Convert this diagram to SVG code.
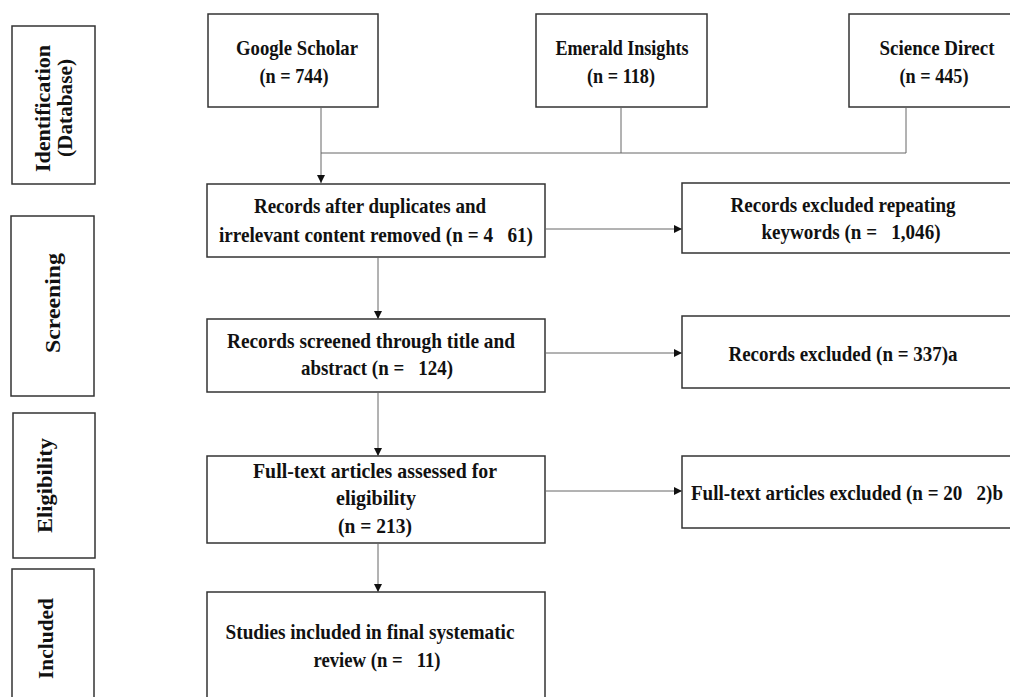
<svg xmlns="http://www.w3.org/2000/svg" width="1010" height="697" viewBox="0 0 1010 697">
<defs>
<marker id="arr" viewBox="0 0 10 10" refX="10" refY="5" markerWidth="8" markerHeight="8" markerUnits="userSpaceOnUse" orient="auto">
<path d="M0,0 L10,5 L0,10 Z" fill="#111"/>
</marker>
<style>
.box{fill:#fff;stroke:#333;stroke-width:1.5}
.t{font-family:"Liberation Serif","Times New Roman",serif;font-weight:bold;font-size:21px;fill:#111;text-anchor:middle}
.c{fill:none;stroke:#666;stroke-width:1}
</style>
</defs>
<rect width="1010" height="697" fill="#fff"/>

<g id="stage-identification">
<rect class="box" x="12" y="26" width="83" height="158"/>
<text class="t" transform="translate(50,108.5) rotate(-90)" textLength="127" lengthAdjust="spacingAndGlyphs">Identification</text>
<text class="t" transform="translate(72,108) rotate(-90)" textLength="98" lengthAdjust="spacingAndGlyphs">(Database)</text>
</g>
<g id="stage-screening">
<rect class="box" x="11" y="216" width="83" height="180"/>
<text class="t" transform="translate(60,303) rotate(-90)" textLength="100" lengthAdjust="spacingAndGlyphs">Screening</text>
</g>
<g id="stage-eligibility">
<rect class="box" x="13" y="413" width="82" height="145"/>
<text class="t" transform="translate(52,485.5) rotate(-90)" textLength="95" lengthAdjust="spacingAndGlyphs">Eligibility</text>
</g>
<g id="stage-included">
<rect class="box" x="12" y="569" width="82" height="140"/>
<text class="t" transform="translate(53,638.5) rotate(-90)" textLength="81" lengthAdjust="spacingAndGlyphs">Included</text>
</g>

<g id="google-scholar">
<rect class="box" x="208" y="14" width="170" height="93"/>
<text class="t" x="297" y="55" textLength="122" lengthAdjust="spacingAndGlyphs">Google Scholar</text>
<text class="t" x="294" y="83" textLength="69" lengthAdjust="spacingAndGlyphs">(n = 744)</text>
</g>
<g id="emerald-insights">
<rect class="box" x="536" y="14" width="171" height="93"/>
<text class="t" x="622" y="55" textLength="133" lengthAdjust="spacingAndGlyphs">Emerald Insights</text>
<text class="t" x="621" y="83" textLength="68" lengthAdjust="spacingAndGlyphs">(n = 118)</text>
</g>
<g id="science-direct">
<rect class="box" x="849" y="14" width="170" height="93"/>
<text class="t" x="937" y="55" textLength="115" lengthAdjust="spacingAndGlyphs">Science Direct</text>
<text class="t" x="934" y="83" textLength="69" lengthAdjust="spacingAndGlyphs">(n = 445)</text>
</g>

<g id="records-after-duplicates">
<rect class="box" x="207" y="184" width="338" height="73"/>
<text class="t" x="370" y="213" textLength="232" lengthAdjust="spacingAndGlyphs">Records after duplicates and</text>
<text class="t" x="376" y="242" textLength="314" lengthAdjust="spacingAndGlyphs">irrelevant content removed (n = 4&#160;&#160;&#160;61)</text>
</g>
<g id="records-screened">
<rect class="box" x="207" y="319" width="338" height="73"/>
<text class="t" x="371" y="348" textLength="288" lengthAdjust="spacingAndGlyphs">Records screened through title and</text>
<text class="t" x="377" y="375" textLength="152" lengthAdjust="spacingAndGlyphs">abstract (n =&#160;&#160;&#160;124)</text>
</g>
<g id="full-text-assessed">
<rect class="box" x="207" y="456" width="338" height="87"/>
<text class="t" x="375" y="478" textLength="244" lengthAdjust="spacingAndGlyphs">Full-text articles assessed for</text>
<text class="t" x="376" y="505" textLength="80" lengthAdjust="spacingAndGlyphs">eligibility</text>
<text class="t" x="375" y="533" textLength="74" lengthAdjust="spacingAndGlyphs">(n = 213)</text>
</g>
<g id="studies-included">
<rect class="box" x="207" y="592" width="338" height="120"/>
<text class="t" x="370" y="639" textLength="289" lengthAdjust="spacingAndGlyphs">Studies included in final systematic</text>
<text class="t" x="377" y="667" textLength="127" lengthAdjust="spacingAndGlyphs">review (n =&#160;&#160;&#160;11)</text>
</g>

<g id="excluded-repeating">
<rect class="box" x="682" y="183" width="340" height="70"/>
<text class="t" x="843" y="212" textLength="225" lengthAdjust="spacingAndGlyphs">Records excluded repeating</text>
<text class="t" x="851" y="239" textLength="179" lengthAdjust="spacingAndGlyphs">keywords (n =&#160;&#160;&#160;1,046)</text>
</g>
<g id="records-excluded">
<rect class="box" x="682" y="316" width="340" height="72"/>
<text class="t" x="843" y="361" textLength="229" lengthAdjust="spacingAndGlyphs">Records excluded (n = 337)a</text>
</g>
<g id="full-text-excluded">
<rect class="box" x="682" y="456" width="340" height="72"/>
<text class="t" x="847" y="500" textLength="312" lengthAdjust="spacingAndGlyphs">Full-text articles excluded (n = 20&#160;&#160;&#160;2)b</text>
</g>

<g id="connectors">
<line class="c" x1="621" y1="107" x2="621" y2="153"/>
<line class="c" x1="906" y1="107" x2="906" y2="153"/>
<line class="c" x1="321" y1="153" x2="906" y2="153"/>
<line class="c" x1="321" y1="107" x2="321" y2="183" marker-end="url(#arr)"/>
<line class="c" x1="378" y1="257" x2="378" y2="319" marker-end="url(#arr)"/>
<line class="c" x1="378" y1="392" x2="378" y2="456" marker-end="url(#arr)"/>
<line class="c" x1="378" y1="543" x2="378" y2="592" marker-end="url(#arr)"/>
<line class="c" x1="545" y1="229" x2="682" y2="229" marker-end="url(#arr)"/>
<line class="c" x1="545" y1="353" x2="682" y2="353" marker-end="url(#arr)"/>
<line class="c" x1="545" y1="491" x2="682" y2="491" marker-end="url(#arr)"/>
</g>
</svg>
